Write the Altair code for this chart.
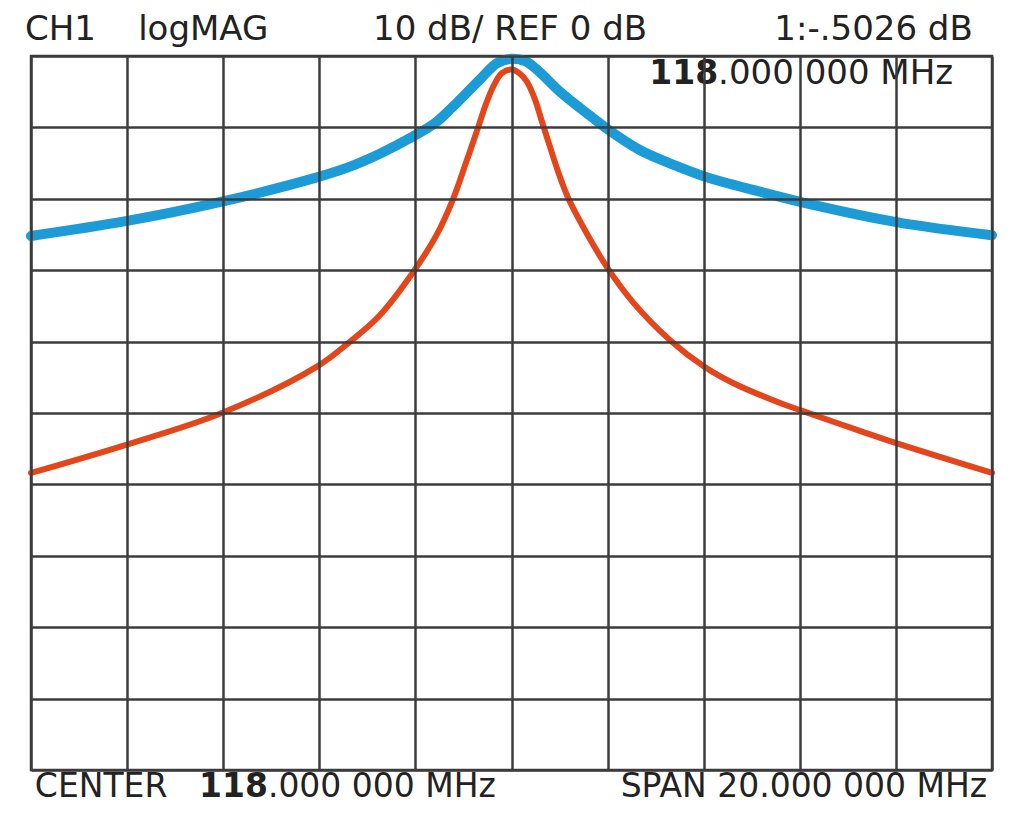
import altair as alt
import pandas as pd

blue_f = [108.0, 110.0, 111.97, 113.95, 114.64, 115.26, 115.97, 116.41, 116.78, 117.34,
          117.70, 117.99, 118.28, 118.53, 119.01, 119.43, 119.70, 119.99, 120.68, 121.36,
          122.03, 123.17, 124.05, 126.04, 128.0]
blue_db = [-25.2, -23.1, -20.4, -17.0, -15.5, -13.7, -11.2, -9.4, -7.1, -3.3,
           -1.0, -0.4, -0.7, -1.9, -5.0, -7.3, -8.7, -10.2, -13.2, -15.2,
           -16.9, -19.0, -20.5, -23.3, -25.1]

red_f = [108.0, 109.91, 111.97, 113.95, 114.64, 115.26, 115.97, 116.43, 116.78, 117.05,
         117.32, 117.47, 117.64, 117.80, 118.0, 118.16, 118.32, 118.49, 118.63, 118.80,
         118.97, 119.18, 119.57, 119.99, 120.53, 121.30, 122.03, 122.61, 123.59, 124.05,
         125.25, 126.04, 128.0]
red_db = [-58.4, -54.6, -50.0, -43.5, -40.0, -36.3, -30.1, -25.2, -20.1, -15.0,
          -9.7, -6.7, -4.0, -2.4, -1.9, -2.4, -3.6, -6.1, -9.1, -12.7,
          -16.2, -19.9, -24.9, -29.6, -34.5, -39.8, -43.6, -45.8, -48.6, -49.7,
          -52.5, -54.3, -58.4]

x_grid = [108, 110, 112, 114, 116, 118, 120, 122, 124, 126, 128]
y_grid = [0, -10, -20, -30, -40, -50, -60, -70, -80, -90, -100]

header_texts = ["CH1", "logMAG", "10 dB/ REF 0 dB", "1:-.5026 dB"]
marker_texts = ["118", ".000 000 MHz"]
footer_texts = ["CENTER", "118", ".000 000 MHz", "SPAN 20.000 000 MHz"]

FONT = "DejaVu Sans"
INK = "#222222"
GRID = "#3c3c3c"

xs = alt.Scale(domain=[108, 128], nice=False, zero=False)
ys = alt.Scale(domain=[-100, 0], nice=False, zero=False)

xax = alt.Axis(values=x_grid, grid=True, labels=False, ticks=False, domain=False,
               title=None, gridColor=GRID, gridWidth=2.5, gridOpacity=1, zindex=1)
yax = alt.Axis(values=y_grid, grid=True, labels=False, ticks=False, domain=False,
               title=None, gridColor=GRID, gridWidth=2.5, gridOpacity=1, zindex=1)

blue_df = pd.DataFrame({"f": blue_f, "db": blue_db})
red_df = pd.DataFrame({"f": red_f, "db": red_db})

blue = alt.Chart(blue_df).mark_line(color="#1c9bd7", strokeWidth=10, interpolate="catmull-rom",
                                    strokeCap="round").encode(
    x=alt.X("f:Q", scale=xs, axis=xax),
    y=alt.Y("db:Q", scale=ys, axis=yax),
    order="f:Q",
)
red = alt.Chart(red_df).mark_line(color="#e4461b", strokeWidth=6, interpolate="catmull-rom",
                                  strokeCap="round").encode(
    x=alt.X("f:Q", scale=xs),
    y=alt.Y("db:Q", scale=ys),
    order="f:Q",
)


def label(text, f, db, align="left", bold=False, size=34):
    return alt.Chart(pd.DataFrame({"t": [text]})).mark_text(
        font=FONT, fontSize=size, fontWeight="bold" if bold else "normal",
        align=align, baseline="alphabetic", color=INK,
    ).encode(
        x=alt.X(datum=f, scale=xs),
        y=alt.Y(datum=db, scale=ys),
        text="t:N",
    )


TOP_DB = 2.2      # header baseline, just above the grid
MARK_DB = -3.9    # marker readout baseline, inside the first row
FOOT_DB = -103.8  # footer baseline, below the grid

layers = [blue, red]
layers.append(label(header_texts[0], 107.875, TOP_DB, "left", size=34))
layers.append(label(header_texts[1], 110.23, TOP_DB, "left", size=34))
layers.append(label(header_texts[2], 117.97, TOP_DB, "center", size=34))
layers.append(label(header_texts[3], 127.60, TOP_DB, "right", size=34))
layers.append(label(marker_texts[0], 122.30, MARK_DB, "right", bold=True, size=33))
layers.append(label(marker_texts[1], 122.30, MARK_DB, "left", size=34))
layers.append(label(footer_texts[0], 108.08, FOOT_DB, "left", size=33))
layers.append(label(footer_texts[1], 112.93, FOOT_DB, "right", bold=True, size=33))
layers.append(label(footer_texts[2], 112.93, FOOT_DB, "left", size=33))
layers.append(label(footer_texts[3], 127.90, FOOT_DB, "right", size=33))

chart = alt.layer(*layers).properties(
    width=961, height=714,
    autosize=alt.AutoSizeParams(type="none"),
    padding={"left": 23, "top": 48, "right": 9, "bottom": 35},
    background="white",
).configure_view(stroke=GRID, strokeWidth=2.5)

chart.save("out.html", embed_options={"renderer": "svg", "actions": False})
